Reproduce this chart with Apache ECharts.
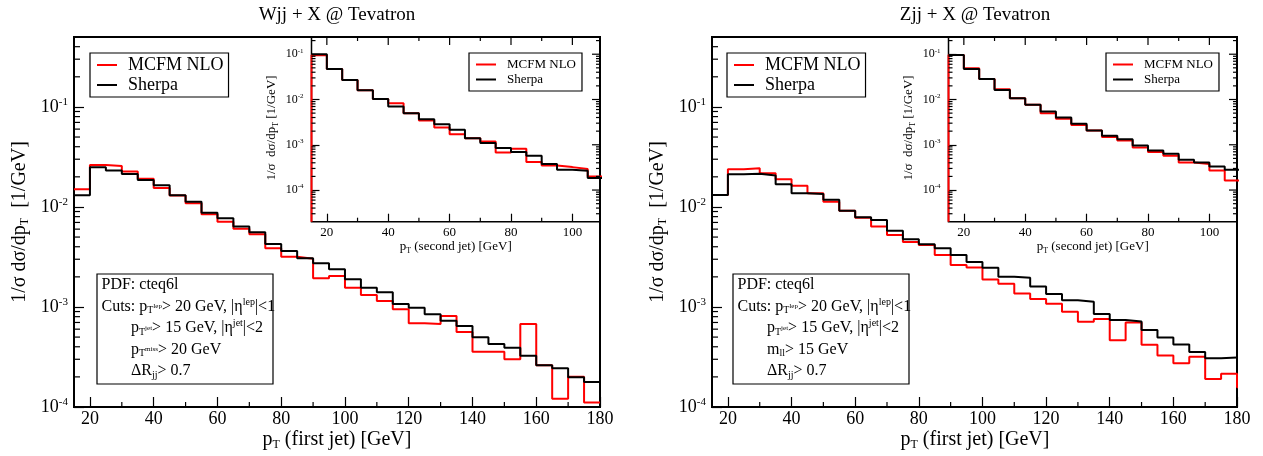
<!DOCTYPE html>
<html>
<head>
<meta charset="utf-8">
<title>pT (first jet) - Wjj / Zjj + X @ Tevatron</title>
<script src="https://cdn.jsdelivr.net/npm/echarts@6/dist/echarts.min.js"></script>
<style>
  html, body { margin: 0; padding: 0; background: #fff; }
  #main { width: 1263px; height: 456px; }
</style>
</head>
<body>
<div id="main"></div>
<script>
// lower bin edges [GeV], every bin is 5 GeV wide
var mainBins = [15, 20, 25, 30, 35, 40, 45, 50, 55, 60, 65, 70, 75, 80, 85, 90, 95, 100,
                105, 110, 115, 120, 125, 130, 135, 140, 145, 150, 155, 160, 165, 170, 175, 180];
var insetBins = [15, 20, 25, 30, 35, 40, 45, 50, 55, 60, 65, 70, 75, 80, 85, 90, 95, 100, 105];
var binWidth = 5;

// Wjj, first jet
var wjjMcfm = [0.0150, 0.0263, 0.0257, 0.0226, 0.0191, 0.0155, 0.0130, 0.0109, 0.00845, 0.00713,
               0.00607, 0.00533, 0.00386, 0.00318, 0.00304, 0.00194, 0.00204, 0.00156, 0.00132,
               0.00115, 0.000948, 0.000687, 0.000676, 0.000813, 0.000562, 0.000357, 0.000357,
               0.000300, 0.000676, 0.000261, 0.000121, 0.000201, 0.000111];
var wjjSherpa = [0.0131, 0.0249, 0.0231, 0.0214, 0.0186, 0.0165, 0.0131, 0.0113, 0.00877, 0.00771,
                 0.00636, 0.00558, 0.00427, 0.00363, 0.00307, 0.00274, 0.00238, 0.00189, 0.00156,
                 0.00140, 0.00107, 0.000984, 0.000845, 0.000730, 0.000646, 0.000498, 0.000427,
                 0.000392, 0.000326, 0.000261, 0.000244, 0.000198, 0.000178];
// Wjj, second jet (inset)
var wjjMcfm2 = [0.095, 0.0474, 0.0271, 0.0160, 0.0103, 0.0083, 0.00499, 0.00343, 0.00240, 0.00171,
                0.00140, 0.00118, 0.000676, 0.000815, 0.000414, 0.000349, 0.000321, 0.000290, 0.000199];
var wjjSherpa2 = [0.100, 0.0474, 0.0271, 0.0160, 0.0103, 0.00698, 0.00499, 0.00368, 0.00285, 0.00214,
                  0.00140, 0.00110, 0.000844, 0.000689, 0.000571, 0.000374, 0.000281, 0.000267, 0.000184];

// Zjj, first jet
var zjjMcfm = [0.0132, 0.0238, 0.0244, 0.0217, 0.0189, 0.0163, 0.0137, 0.0113, 0.00918, 0.00782,
               0.00636, 0.00525, 0.00447, 0.00417, 0.00331, 0.00263, 0.00248, 0.00188, 0.00171,
               0.00136, 0.00120, 0.00108, 0.000898, 0.000713, 0.000759, 0.000465, 0.000700,
               0.000420, 0.000327, 0.000273, 0.000318, 0.000191, 0.000215, 0.000158];
var zjjSherpa = [0.0132, 0.0212, 0.0215, 0.0206, 0.0169, 0.0137, 0.0135, 0.0118, 0.00918, 0.00789,
                 0.00741, 0.00579, 0.00475, 0.00424, 0.00386, 0.00331, 0.00282, 0.00247, 0.00201,
                 0.00196, 0.00160, 0.00135, 0.00117, 0.00113, 0.000851, 0.000741, 0.000716,
                 0.000589, 0.000495, 0.000422, 0.000355, 0.000307, 0.000313];
// Zjj, second jet (inset)
var zjjMcfm2 = [0.0966, 0.0491, 0.0285, 0.0169, 0.0107, 0.00762, 0.00499, 0.00374, 0.00275, 0.00207,
                0.00148, 0.00124, 0.00087, 0.000689, 0.000571, 0.000406, 0.000374, 0.000270, 0.000163];
var zjjSherpa2 = [0.0966, 0.0474, 0.0285, 0.0163, 0.0107, 0.00762, 0.00542, 0.00399, 0.00290, 0.00207,
                  0.00158, 0.00133, 0.000964, 0.000747, 0.000631, 0.000466, 0.000406, 0.000331, 0.000281];

// ticks
var mainXLabels = [20, 40, 60, 80, 100, 120, 140, 160, 180];
var mainXMinor = [30, 50, 70, 90, 110, 130, 150, 170];
var insetXLabels = [20, 40, 60, 80, 100];
var insetXMinor = [30, 50, 70, 90];
var yDecades = [0.0001, 0.001, 0.01, 0.1];
var logMantissa = [2, 3, 4, 5, 6, 7, 8, 9];

var mainRange = {x: [15, 180], y: [0.0001, 0.5]};
var insetRange = {x: [15, 109], y: [0.00002, 0.24]};

var FONT = '"Liberation Serif","Times New Roman",Times,serif';
var RED = '#ff0000';

function rich(size) {
    return {
        b: {fontSize: size, fontFamily: FONT, color: '#000'},
        sup: {fontSize: Math.round(size * 0.62), fontFamily: FONT, color: '#000',
              padding: [0, 0, Math.round(size * 0.55), 0]},
        sub: {fontSize: Math.round(size * 0.62), fontFamily: FONT, color: '#000',
              padding: [Math.round(size * 0.5), 0, 0, 0]},
        tiny: {fontSize: Math.round(size * 0.45), fontFamily: FONT, color: '#000'}
    };
}

function minorLog(min, max) {
    var out = [];
    [0.00001].concat(yDecades).forEach(function (d) {
        logMantissa.forEach(function (m) {
            var v = m * d;
            if (v > min * 1.0001 && v < max * 0.9999) out.push(v);
        });
    });
    return out;
}

function logLabel(v) {
    var e = Math.log10(v), r = Math.round(e);
    if (Math.abs(e - r) > 1e-6) return '';
    return '{b|10}{sup|' + r + '}';
}

function stepData(bins, values, baseline) {
    var pts = [];
    if (baseline != null) pts.push([bins[0], baseline]);
    for (var i = 0; i < values.length; i++) {
        pts.push([bins[i], values[i]]);
        pts.push([bins[i] + binWidth, values[i]]);
    }
    return pts;
}

function lineSeries(name, idx, pts, color) {
    return {
        name: name, type: 'line', xAxisIndex: idx, yAxisIndex: idx,
        data: pts, symbol: 'none', clip: true, z: 3,
        lineStyle: {color: color, width: 2}, itemStyle: {color: color}
    };
}

// side: 0 left, 1 right, 2 bottom, 3 top
function tickSeries(idx, items, r) {
    return {
        type: 'custom', xAxisIndex: idx, yAxisIndex: idx, silent: true, z: 6,
        data: items,
        renderItem: function (params, api) {
            var side = api.value(0), v = api.value(1), len = api.value(2), p, q;
            if (side === 0) { p = api.coord([r.x[0], v]); q = [p[0] + len, p[1]]; }
            else if (side === 1) { p = api.coord([r.x[1], v]); q = [p[0] - len, p[1]]; }
            else if (side === 2) { p = api.coord([v, r.y[0]]); q = [p[0], p[1] - len]; }
            else { p = api.coord([v, r.y[1]]); q = [p[0], p[1] + len]; }
            return {type: 'line', shape: {x1: p[0], y1: p[1], x2: q[0], y2: q[1]},
                    style: {stroke: '#000', lineWidth: 1.2}};
        }
    };
}

function items(side, values, len) {
    return values.map(function (v) { return [side, v, len]; });
}

var mainTicks = items(0, minorLog(mainRange.y[0], mainRange.y[1]), 6)
    .concat(items(2, mainXMinor, 5));
var insetTicks = items(0, minorLog(insetRange.y[0], insetRange.y[1]), 4)
    .concat(items(1, minorLog(insetRange.y[0], insetRange.y[1]), 4))
    .concat(items(1, yDecades, 8))
    .concat(items(2, insetXMinor, 4))
    .concat(items(3, insetXMinor, 4))
    .concat(items(3, insetXLabels, 8));

function xAxis(idx, r, labels, size, tickLen) {
    return {
        type: 'value', gridIndex: idx, min: r.x[0], max: r.x[1],
        axisLine: {show: false}, splitLine: {show: false},
        axisTick: {show: true, inside: true, length: tickLen, customValues: labels,
                   lineStyle: {color: '#000', width: 1.2}},
        axisLabel: {customValues: labels, color: '#000', fontSize: size, fontFamily: FONT,
                    margin: size > 15 ? 3 : 4, showMinLabel: true, showMaxLabel: true,
                    formatter: function (v) { return labels.indexOf(Math.round(v)) >= 0 ? String(Math.round(v)) : ''; }}
    };
}

function yAxis(idx, r, size, tickLen, margin) {
    return {
        type: 'log', logBase: 10, gridIndex: idx, min: r.y[0], max: r.y[1],
        axisLine: {show: false}, splitLine: {show: false}, minorTick: {show: false},
        axisTick: {show: true, inside: true, length: tickLen, customValues: yDecades,
                   lineStyle: {color: '#000', width: 1.2}},
        axisLabel: {customValues: yDecades, margin: margin, formatter: logLabel, rich: rich(size),
                    showMinLabel: true, showMaxLabel: true}
    };
}

function legend(left, top, size, pad, textPad) {
    return {
        data: ['MCFM NLO', 'Sherpa'], orient: 'vertical', left: left, top: top,
        icon: 'rect', itemWidth: 20, itemHeight: 2, itemGap: 2, padding: pad,
        borderColor: '#000', borderWidth: 1.2, backgroundColor: '#fff', selectedMode: false,
        textStyle: {color: '#000', fontSize: size, fontFamily: FONT, padding: [0, 0, 0, textPad]}
    };
}

function text(x, y, str, size, align, rot) {
    return {
        type: 'text', x: x, y: y, rotation: rot || 0, z: 50,
        style: {text: str, fontSize: size, fontFamily: FONT, fill: '#000',
                align: align || 'left', verticalAlign: 'middle', rich: rich(size)}
    };
}

function box(x, y, w, h) {
    return {type: 'rect', z: 40, shape: {x: x, y: y, width: w, height: h},
            style: {fill: '#fff', stroke: '#000', lineWidth: 1.2}};
}

function cutsBox(x0, fourth) {
    return [
        box(x0, 274, 176, 110),
        text(x0 + 4.5, 285, 'PDF: cteq6l', 16),
        text(x0 + 4.5, 306.5, 'Cuts: p{sub|T}{tiny|lep}> 20 GeV, |η{sup|lep}|<1', 16),
        text(x0 + 34, 328, 'p{sub|T}{tiny|jet}> 15 GeV, |η{sup|jet}|<2', 16),
        text(x0 + 34, 349.5, fourth, 16),
        text(x0 + 34, 371, 'ΔR{sub|jj}> 0.7', 16)
    ];
}

var chart = echarts.init(document.getElementById('main'), null, {renderer: 'canvas'});

var option = {
    backgroundColor: '#fff',
    animation: false,
    grid: [
        {left: 74, top: 37, width: 526, height: 370, show: true, borderColor: '#000', borderWidth: 2, backgroundColor: 'transparent', outerBoundsMode: 'none'},
        {left: 311.5, top: 37, width: 288.5, height: 184.7, show: true, borderColor: '#000', borderWidth: 1.5, backgroundColor: 'transparent', outerBoundsMode: 'none'},
        {left: 712, top: 37, width: 525, height: 370, show: true, borderColor: '#000', borderWidth: 2, backgroundColor: 'transparent', outerBoundsMode: 'none'},
        {left: 948.5, top: 37, width: 288.5, height: 184.7, show: true, borderColor: '#000', borderWidth: 1.5, backgroundColor: 'transparent', outerBoundsMode: 'none'}
    ],
    xAxis: [
        xAxis(0, mainRange, mainXLabels, 18, 10),
        xAxis(1, insetRange, insetXLabels, 13, 8),
        xAxis(2, mainRange, mainXLabels, 18, 10),
        xAxis(3, insetRange, insetXLabels, 13, 8)
    ],
    yAxis: [
        yAxis(0, mainRange, 18, 10, 6),
        yAxis(1, insetRange, 12, 8, 8),
        yAxis(2, mainRange, 18, 10, 6),
        yAxis(3, insetRange, 12, 8, 8)
    ],
    legend: [
        legend(90, 53, 18, [3, 5, 3, 7], 6),
        legend(469, 53, 13, [5, 6, 5, 7], 6),
        legend(727, 53, 18, [3, 5, 3, 7], 6),
        legend(1106, 53, 13, [5, 6, 5, 7], 6)
    ],
    series: [
        lineSeries('MCFM NLO', 0, stepData(mainBins, wjjMcfm), RED),
        lineSeries('Sherpa', 0, stepData(mainBins, wjjSherpa), '#000'),
        lineSeries('MCFM NLO', 1, stepData(insetBins, wjjMcfm2, insetRange.y[0]), RED),
        lineSeries('Sherpa', 1, stepData(insetBins, wjjSherpa2), '#000'),
        lineSeries('MCFM NLO', 2, stepData(mainBins, zjjMcfm), RED),
        lineSeries('Sherpa', 2, stepData(mainBins, zjjSherpa), '#000'),
        lineSeries('MCFM NLO', 3, stepData(insetBins, zjjMcfm2, insetRange.y[0]), RED),
        lineSeries('Sherpa', 3, stepData(insetBins, zjjSherpa2), '#000'),
        tickSeries(0, mainTicks, mainRange),
        tickSeries(1, insetTicks, insetRange),
        tickSeries(2, mainTicks, mainRange),
        tickSeries(3, insetTicks, insetRange)
    ],
    graphic: [
        text(337, 15, 'Wjj + X @ Tevatron', 19, 'center'),
        text(975, 15, 'Zjj + X @ Tevatron', 19, 'center'),
        text(337, 440, 'p{sub|T} (first jet) [GeV]', 20, 'center'),
        text(975, 440, 'p{sub|T} (first jet) [GeV]', 20, 'center'),
        text(20, 222, '1/σ dσ/dp{sub|T}  [1/GeV]', 20, 'center', Math.PI / 2),
        text(658, 222, '1/σ dσ/dp{sub|T}  [1/GeV]', 20, 'center', Math.PI / 2),
        text(455.7, 247, 'p{sub|T} (second jet) [GeV]', 13, 'center'),
        text(1092.7, 247, 'p{sub|T} (second jet) [GeV]', 13, 'center'),
        text(272, 128, '1/σ  dσ/dp{sub|T} [1/GeV]', 13, 'center', Math.PI / 2),
        text(909, 128, '1/σ  dσ/dp{sub|T} [1/GeV]', 13, 'center', Math.PI / 2)
    ].concat(cutsBox(97, 'p{sub|T}{tiny|miss}> 20 GeV'))
     .concat(cutsBox(733, 'm{sub|ll}> 15 GeV'))
};

chart.setOption(option);
</script>
</body>
</html>
